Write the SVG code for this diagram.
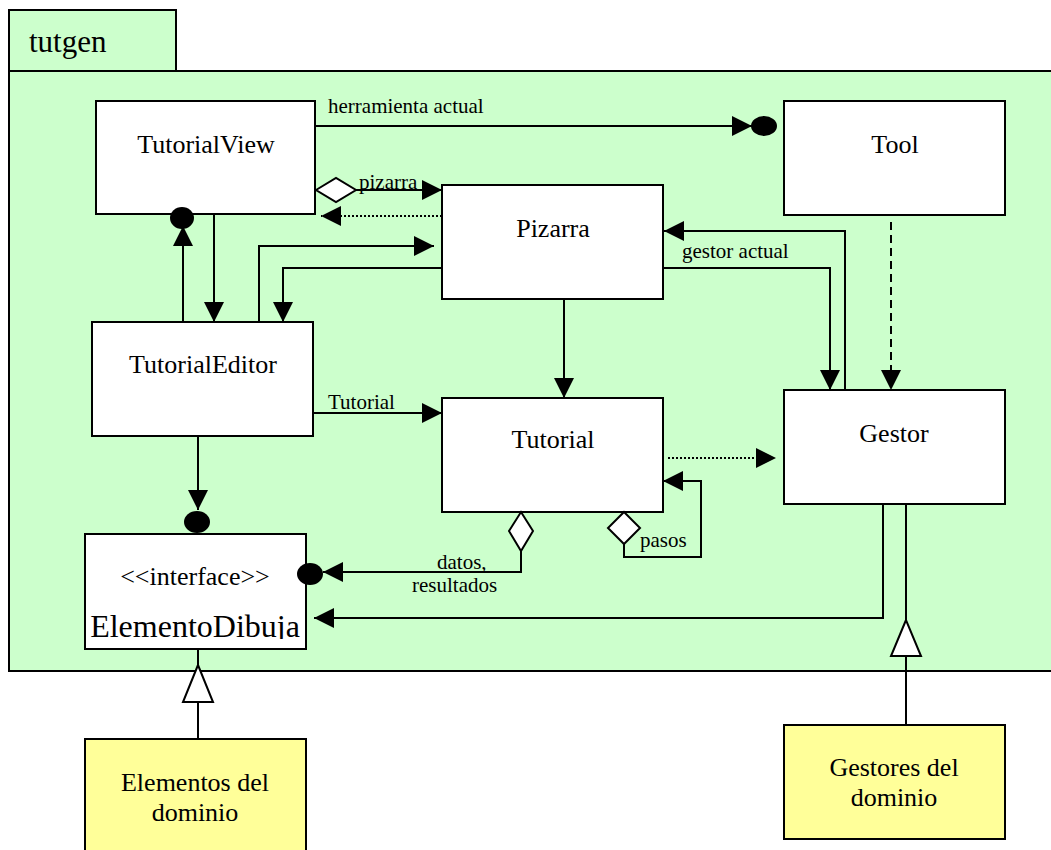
<svg xmlns="http://www.w3.org/2000/svg" width="1051" height="850" viewBox="0 0 1051 850">
<style>
.box{fill:#fff;stroke:#000;stroke-width:2}
.ybox{fill:#FFFF99;stroke:#000;stroke-width:2}
.pkg{fill:#CCFFCC;stroke:#000;stroke-width:2}
.t{font-family:"Liberation Serif","Times New Roman",serif;fill:#000}
.title{font-size:26px;text-anchor:middle}
.lbl{font-size:21px}
.c{fill:none;stroke:#000;stroke-width:2}
.dot{stroke-dasharray:2,2}
.dash{stroke-dasharray:8,5}
.wf{fill:#fff;stroke:#000;stroke-width:2}
.bf{fill:#000}
</style>
<defs>
<marker id="arr" markerUnits="userSpaceOnUse" markerWidth="20" markerHeight="20" refX="20" refY="10" orient="auto" viewBox="0 0 20 20">
<path d="M0,0 L20,10 L0,20 z" fill="#000"/>
</marker>
<clipPath id="edclip"><rect x="85" y="535" width="220" height="104"/></clipPath>
</defs>
<g id="package">
<rect class="pkg" x="9" y="10" width="167" height="61"/>
<rect class="pkg" x="9" y="71" width="1060" height="600"/>
<text class="t" x="29" y="52" font-size="31">tutgen</text>
</g>
<g id="TutorialView">
<rect class="box" x="96" y="101" width="219" height="113"/>
<text class="t title" x="206" y="153">TutorialView</text>
</g>
<g id="Tool">
<rect class="box" x="784" y="101" width="221" height="114"/>
<text class="t title" x="895" y="153">Tool</text>
</g>
<g id="Pizarra">
<rect class="box" x="442" y="185" width="221" height="114"/>
<text class="t title" x="553" y="237">Pizarra</text>
</g>
<g id="TutorialEditor">
<rect class="box" x="92" y="322" width="221" height="114"/>
<text class="t title" x="203" y="373">TutorialEditor</text>
</g>
<g id="Tutorial">
<rect class="box" x="442" y="398" width="221" height="114"/>
<text class="t title" x="553" y="448">Tutorial</text>
</g>
<g id="Gestor">
<rect class="box" x="784" y="390" width="221" height="114"/>
<text class="t title" x="894" y="442">Gestor</text>
</g>
<g id="ElementoDibuja">
<rect class="box" x="85" y="534" width="221" height="115"/>
<text class="t title" x="195" y="585">&lt;&lt;interface&gt;&gt;</text>
<text class="t" x="195" y="637" font-size="32" text-anchor="middle" clip-path="url(#edclip)">ElementoDibuja</text>
</g>
<g id="ElementosDominio">
<rect class="ybox" x="85" y="739" width="221" height="130"/>
<text class="t title" x="195" y="791">Elementos del</text>
<text class="t title" x="195" y="821">dominio</text>
</g>
<g id="GestoresDominio">
<rect class="ybox" x="784" y="725" width="221" height="114"/>
<text class="t title" x="894" y="776">Gestores del</text>
<text class="t title" x="894" y="806">dominio</text>
</g>
<g id="connectors">
<line class="c" x1="315" y1="126" x2="752" y2="126" marker-end="url(#arr)"/>
<ellipse class="bf" cx="764" cy="126" rx="13" ry="10"/>
<text class="t lbl" x="328" y="113">herramienta actual</text>

<line class="c" x1="356" y1="190" x2="442" y2="190" marker-end="url(#arr)"/>
<polygon class="wf" points="316,190 336,178 356,190 336,202"/>
<text class="t lbl" x="359" y="189">pizarra</text>

<line class="c dot" x1="442" y1="216" x2="321" y2="216" marker-end="url(#arr)"/>

<line class="c" x1="183" y1="322" x2="183" y2="226" marker-end="url(#arr)"/>
<ellipse class="bf" cx="182" cy="218" rx="12" ry="11"/>

<line class="c" x1="214" y1="214" x2="214" y2="322" marker-end="url(#arr)"/>

<polyline class="c" points="259,322 259,246 434,246" marker-end="url(#arr)"/>
<polyline class="c" points="442,268 283,268 283,322" marker-end="url(#arr)"/>

<line class="c" x1="564" y1="299" x2="564" y2="398" marker-end="url(#arr)"/>

<polyline class="c" points="663,268 830,268 830,390" marker-end="url(#arr)"/>
<text class="t lbl" x="682" y="258">gestor actual</text>

<polyline class="c" points="845,390 845,231 664,231" marker-end="url(#arr)"/>

<line class="c dash" x1="891" y1="222" x2="891" y2="390" marker-end="url(#arr)"/>

<line class="c" x1="313" y1="413" x2="442" y2="413" marker-end="url(#arr)"/>
<text class="t lbl" x="328" y="409">Tutorial</text>

<line class="c" x1="198" y1="436" x2="198" y2="510" marker-end="url(#arr)"/>
<ellipse class="bf" cx="197" cy="522" rx="13" ry="11"/>

<polyline class="c" points="521,551 521,572 323,572" marker-end="url(#arr)"/>
<polygon class="wf" points="521,512 533,531 521,551 509,531"/>
<ellipse class="bf" cx="310" cy="574" rx="13" ry="11"/>
<text class="t lbl" x="437" y="569">datos,</text>
<text class="t lbl" x="412" y="592">resultados</text>

<polyline class="c" points="624,544 624,557 701,557 701,481 663,481" marker-end="url(#arr)"/>
<polygon class="wf" points="624,512 640,528 624,544 608,528"/>
<text class="t lbl" x="640" y="547">pasos</text>

<line class="c dot" x1="668" y1="458" x2="776" y2="458" marker-end="url(#arr)"/>

<polyline class="c" points="883,504 883,618 314,618" marker-end="url(#arr)"/>

<line class="c" x1="906" y1="725" x2="906" y2="504"/>
<polygon class="wf" points="906,620 891,656 921,656"/>

<line class="c" x1="198" y1="739" x2="198" y2="649"/>
<polygon class="wf" points="198,665 183,702 213,702"/>
</g>
</svg>
